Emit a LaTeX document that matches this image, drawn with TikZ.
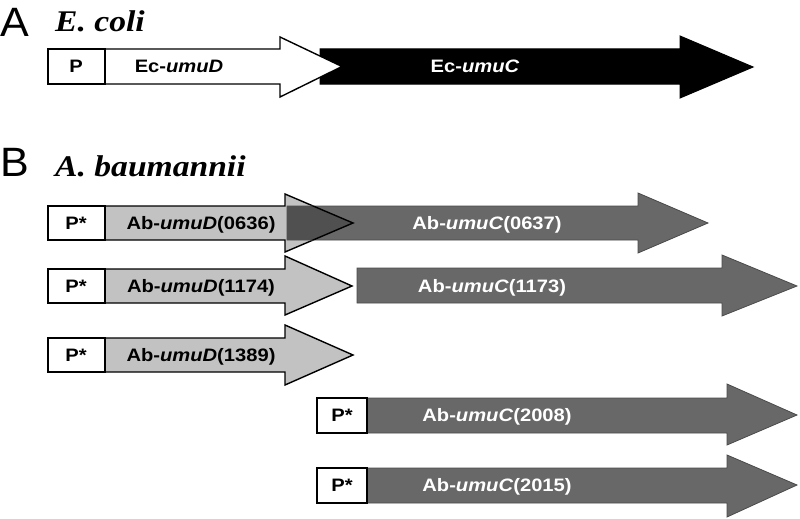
\documentclass[tikz,border=0pt]{standalone}
\usepackage{fontspec}
\setmainfont{Liberation Sans}
\newfontfamily\lblfont{Liberation Sans}[FakeStretch=1.12]
\newfontfamily\spfont{Liberation Serif}[FakeStretch=1.12]
\newfontfamily\panelfont{Liberation Sans}[FakeStretch=1.05]
\definecolor{lightg}{HTML}{C2C2C2}
\definecolor{darkg}{HTML}{686868}
\definecolor{darkedge}{HTML}{4A4A4A}
\definecolor{overlapg}{HTML}{505050}
\newcommand\genearrow[9]{\draw[#1] (#2,#5) -- (#3,#5) -- (#3,#7) -- (#4,#9) -- (#3,#8) -- (#3,#6) -- (#2,#6) -- cycle;}
\tikzset{
  pbox/.style={draw=black, line width=1.4pt, fill=white},
  lightarr/.style={draw=black, line width=1.4pt, fill=lightg},
  whitearr/.style={draw=black, line width=1.4pt, fill=white},
  blackarr/.style={draw=black, line width=1pt, fill=black},
  darkarr/.style={draw=darkedge, line width=0.8pt, fill=darkg},
  lbl/.style={font={\lblfont\bfseries\fontsize{18pt}{20pt}\selectfont}, text height=12.9pt, text depth=0pt, inner sep=0pt},
  wlbl/.style={lbl, text=white},
  panel/.style={font={\panelfont\fontsize{41pt}{44pt}\selectfont}, anchor=base west, inner sep=0pt},
  species/.style={font={\spfont\bfseries\itshape\fontsize{30pt}{32pt}\selectfont}, anchor=base west, inner sep=0pt},
}
\begin{document}
\begin{tikzpicture}[x=1pt,y=-1pt]
\useasboundingbox (0,0) rectangle (800,519);
% Panel A
\node[panel] (labA) at (0,37) {A};
\node[species] (ecoli) at (55,32) {E. coli};
\genearrow{blackarr}{320}{680}{753}{49}{84}{36}{98}{67}
\genearrow{whitearr}{105}{280}{342}{49}{84}{37}{97}{66.5}
\draw[pbox] (48,49) rectangle (105,84);
\node[lbl] (pA) at (76,66.5) {P};
\node[lbl] (ecD) at (179,66.5) {Ec-\textit{umuD}};
\node[wlbl] (ecC) at (475,66.5) {Ec-\textit{umuC}};
% Panel B
\node[panel] (labB) at (0,176) {B};
\node[species] (abau) at (55,176) {A. baumannii};
% Row 1
\genearrow{lightarr}{105}{285}{353}{206}{240}{194}{252}{223}
\genearrow{darkarr}{287}{638}{708}{206}{240}{193}{253}{223}
\begin{scope}
  \clip (287,206.4) rectangle (360,239.6);
  \fill[overlapg] (285,194) -- (353,223) -- (285,252) -- cycle;
  \draw[line width=1.4pt] (285,194) -- (353,223) -- (285,252);
\end{scope}
\draw[pbox] (48,206) rectangle (105,240);
\node[lbl] (p1) at (76,223) {P*};
\node[lbl] (d0636) at (201,223) {Ab-\textit{umuD}(0636)};
\node[wlbl] (c0637) at (487,223) {Ab-\textit{umuC}(0637)};
% Row 2
\genearrow{lightarr}{105}{285}{352}{269}{303}{256}{315}{286}
\genearrow{darkarr}{357}{722}{797}{268}{303}{255}{316}{286}
\draw[pbox] (48,269) rectangle (105,303);
\node[lbl] (p2) at (76,286) {P*};
\node[lbl] (d1174) at (201,286) {Ab-\textit{umuD}(1174)};
\node[wlbl] (c1173) at (492,286) {Ab-\textit{umuC}(1173)};
% Row 3
\genearrow{lightarr}{105}{285}{353}{338}{372}{325}{385}{355}
\draw[pbox] (48,338) rectangle (105,372);
\node[lbl] (p3) at (76,355) {P*};
\node[lbl] (d1389) at (201,355) {Ab-\textit{umuD}(1389)};
% Row 4
\genearrow{darkarr}{367}{727}{797}{398}{433}{384}{445}{415}
\draw[pbox] (317,398) rectangle (367,433);
\node[lbl] (p4) at (342,415) {P*};
\node[wlbl] (c2008) at (497,415) {Ab-\textit{umuC}(2008)};
% Row 5
\genearrow{darkarr}{367}{727}{797}{468}{503}{455}{517}{485}
\draw[pbox] (317,468) rectangle (367,503);
\node[lbl] (p5) at (342,485) {P*};
\node[wlbl] (c2015) at (497,485) {Ab-\textit{umuC}(2015)};
\end{tikzpicture}
\end{document}
